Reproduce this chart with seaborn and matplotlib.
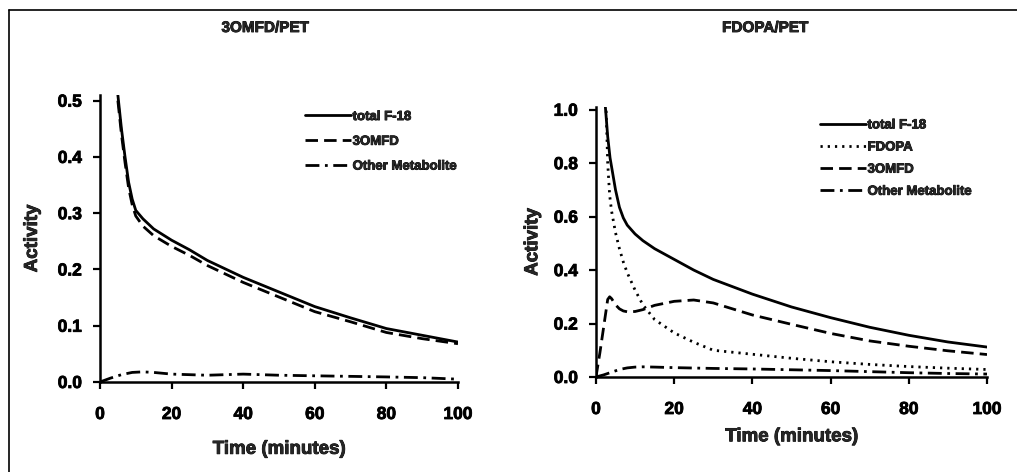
import pandas as pd
import matplotlib
matplotlib.use("Agg")
import matplotlib.pyplot as plt
import matplotlib.patheffects as pe
from matplotlib.lines import Line2D
from matplotlib.text import Text
import seaborn as sns

# ---- left panel: 3OMFD/PET ----
left_total_t = [5, 6, 7, 8, 9, 10, 12, 15, 20, 25, 30, 40, 50, 60, 70, 80, 90, 100]
left_total = [0.51, 0.45, 0.40, 0.355, 0.325, 0.305, 0.29, 0.272, 0.252, 0.235, 0.216,
              0.186, 0.16, 0.134, 0.114, 0.095, 0.083, 0.071]
left_omfd_t = [5, 6, 7, 8, 9, 10, 12, 15, 20, 25, 30, 40, 50, 60, 70, 80, 90, 100]
left_omfd = [0.50, 0.44, 0.39, 0.345, 0.315, 0.295, 0.277, 0.26, 0.241, 0.225, 0.207,
             0.177, 0.151, 0.125, 0.107, 0.088, 0.077, 0.068]
left_other_t = [0, 3, 6, 9, 12, 15, 20, 30, 40, 50, 60, 70, 80, 90, 100]
left_other = [0.0, 0.007, 0.013, 0.017, 0.018, 0.017, 0.014, 0.012, 0.014, 0.012,
              0.011, 0.010, 0.009, 0.0077, 0.005]

# ---- right panel: FDOPA/PET ----
right_total_t = [2.3, 3, 3.6, 5, 6, 7, 8, 10, 12, 15, 20, 25, 30, 40, 50, 60, 70, 80, 90, 100]
right_total = [1.03, 0.90, 0.82, 0.70, 0.635, 0.595, 0.568, 0.535, 0.51, 0.48, 0.44, 0.40,
               0.365, 0.31, 0.262, 0.222, 0.186, 0.156, 0.131, 0.112]
right_fdopa_t = [2.5, 3, 3.5, 4, 5, 6, 7, 8, 10, 12, 15, 20, 25, 30, 40, 50, 60, 70, 80, 90, 100]
right_fdopa = [1.05, 0.80, 0.68, 0.62, 0.54, 0.48, 0.43, 0.39, 0.325, 0.27, 0.215, 0.165,
               0.13, 0.10, 0.085, 0.07, 0.057, 0.047, 0.039, 0.033, 0.028]
right_omfd_t = [0, 1, 2, 3, 3.5, 4, 5, 6, 7, 8, 10, 12, 15, 20, 25, 30, 40, 50, 60, 70, 80, 90, 100]
right_omfd = [0.0, 0.09, 0.19, 0.29, 0.30, 0.293, 0.27, 0.255, 0.247, 0.244, 0.245, 0.252,
              0.268, 0.283, 0.288, 0.277, 0.232, 0.197, 0.163, 0.135, 0.115, 0.098, 0.084]
right_other_t = [0, 2, 4, 6, 8, 10, 12, 15, 20, 30, 40, 50, 60, 70, 80, 90, 100]
right_other = [0.0, 0.008, 0.018, 0.028, 0.034, 0.037, 0.038, 0.037, 0.035, 0.032, 0.030,
               0.027, 0.024, 0.020, 0.016, 0.013, 0.011]


def long_df(parts):
    frames = []
    for name, t, v in parts:
        frames.append(pd.DataFrame({"time": t, "activity": v, "series": name}))
    return pd.concat(frames, ignore_index=True)


df_left = long_df([
    ("total F-18", left_total_t, left_total),
    ("3OMFD", left_omfd_t, left_omfd),
    ("Other Metabolite", left_other_t, left_other),
])
df_right = long_df([
    ("total F-18", right_total_t, right_total),
    ("FDOPA", right_fdopa_t, right_fdopa),
    ("3OMFD", right_omfd_t, right_omfd),
    ("Other Metabolite", right_other_t, right_other),
])

LW = 2.0
dash_map = {
    "total F-18": "",
    "FDOPA": (0.8, 1.8),
    "3OMFD": (4.5, 2.2),
    "Other Metabolite": (5, 2, 1, 2),
}

sns.set_style("ticks")
plt.rcParams["font.family"] = ["Liberation Sans", "DejaVu Sans"]
plt.rcParams["font.weight"] = "bold"

fig = plt.figure(figsize=(10.17, 4.72), dpi=100)
ax1 = fig.add_axes([0.0983, 0.1907, 0.352, 0.608])
ax2 = fig.add_axes([0.586, 0.2013, 0.3845, 0.572])


def draw(ax, df, order, ymax, yticks, leg_top, leg_space, ylab_x, xlab_y):
    sns.lineplot(data=df, x="time", y="activity", style="series", style_order=order,
                 dashes=dash_map, color="black", linewidth=LW, estimator=None,
                 sort=False, ax=ax)
    handles, labels = ax.get_legend_handles_labels()
    for h in handles:
        h.set_color("black")
        h.set_linewidth(LW)
    ax.legend(handles, labels, loc="upper left", bbox_to_anchor=(0.573, leg_top),
              frameon=False, prop={"size": 9.5, "weight": "bold"}, handlelength=3.5,
              handletextpad=0.1, labelspacing=leg_space, borderpad=0, borderaxespad=0)
    ax.set_xlim(0, 100)
    ax.set_ylim(0, ymax)
    ax.set_xticks([0, 20, 40, 60, 80, 100])
    ax.set_yticks(yticks)
    ax.set_yticklabels([f"{v:.1f}" for v in yticks])
    ax.tick_params(axis="both", direction="out", length=5, width=1.6, labelsize=12.5,
                   colors="black")
    ax.tick_params(axis="x", pad=13)
    ax.tick_params(axis="y", pad=8)
    for s in ["top", "right"]:
        ax.spines[s].set_visible(False)
    for s in ["left", "bottom"]:
        ax.spines[s].set_linewidth(1.8)
        ax.spines[s].set_color("black")
    ax.set_xlabel("Time (minutes)", fontsize=13.5, fontweight="bold")
    ax.set_ylabel("Activity", fontsize=13.5, fontweight="bold")
    ax.xaxis.set_label_coords(0.5, xlab_y)
    ax.yaxis.set_label_coords(ylab_x, 0.5)
    ax.grid(False)


draw(ax1, df_left, ["total F-18", "3OMFD", "Other Metabolite"], 0.51,
     [0.0, 0.1, 0.2, 0.3, 0.4, 0.5], 0.945, 0.95, -0.165, -0.205)
draw(ax2, df_right, ["total F-18", "FDOPA", "3OMFD", "Other Metabolite"], 1.01,
     [0.0, 0.2, 0.4, 0.6, 0.8, 1.0], 0.955, 0.75, -0.14, -0.19)

fig.text(265 / 1017, 1 - 28 / 472, "3OMFD/PET", ha="center", va="center",
         fontsize=11, fontweight="bold")
fig.text(765 / 1017, 1 - 28 / 472, "FDOPA/PET", ha="center", va="center",
         fontsize=11, fontweight="bold")

# heavier, scan-like lettering
for t in fig.findobj(Text):
    t.set_path_effects([pe.withStroke(linewidth=0.6, foreground="black")])

# scanned frame (top and left edges)
fig.add_artist(Line2D([9 / 1017, 1], [1 - 10 / 472, 1 - 10 / 472],
                      transform=fig.transFigure, color="black", lw=1.2))
fig.add_artist(Line2D([9 / 1017, 9 / 1017], [0, 1 - 10 / 472],
                      transform=fig.transFigure, color="black", lw=1.2))

fig.savefig("out.png", dpi=100)
